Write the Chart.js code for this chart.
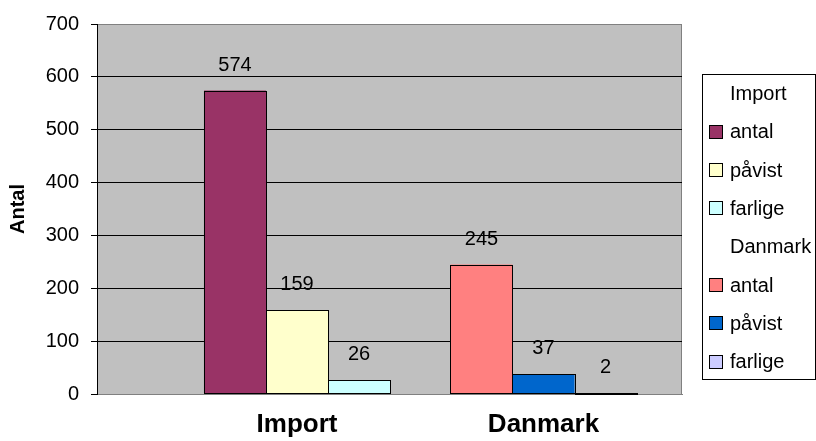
<!DOCTYPE html>
<html><head><meta charset="utf-8">
<script src="https://cdn.jsdelivr.net/npm/chart.js@4.4.0/dist/chart.umd.min.js"></script>
<style>html,body{margin:0;padding:0;background:#fff;}</style>
</head><body>
<canvas id="c" width="816" height="441" style="display:block;width:816px;height:441px"></canvas>
<script>
// ---- data ----
const categories = ['Import', 'Danmark'];
const categoryPositions = [1, 2];
const measures = ['antal', 'påvist', 'farlige'];
const importValues = [574, 159, 26];
const danmarkValues = [245, 37, 2];
const importColors = ['#993366', '#FFFFCC', '#CCFFFF'];
const danmarkColors = ['#FF8080', '#0066CC', '#CCCCFF'];
const yTicks = [0, 100, 200, 300, 400, 500, 600, 700];
const yTitle = 'Antal';

const groupValues = [importValues, danmarkValues];
const groupColors = [importColors, danmarkColors];

const FONT = "'Liberation Sans', Arial, sans-serif";
Chart.defaults.font.family = FONT;
Chart.defaults.color = '#000';

const datasets = measures.map((m, j) => ({
  label: m,
  data: categories.map((c, i) => ({ x: categoryPositions[i], y: groupValues[i][j] })),
  backgroundColor: categories.map((c, i) => groupColors[i][j]),
  borderWidth: 0,
  inflateAmount: 0,
  categoryPercentage: 0.755,
  barPercentage: 1
}));

const plotBg = {
  id: 'plotBg',
  beforeDraw(chart) {
    const { ctx, chartArea: a } = chart;
    ctx.save();
    ctx.fillStyle = '#C0C0C0';
    ctx.fillRect(a.left, a.top, a.right - a.left, a.bottom - a.top);
    ctx.strokeStyle = '#808080';
    ctx.lineWidth = 1;
    ctx.strokeRect(Math.round(a.left) + 0.5, Math.round(a.top) + 0.5, Math.round(a.right - a.left) - 1, Math.round(a.bottom - a.top));
    ctx.restore();
  }
};

// crisp black outlines around each bar, taken from the bar elements' geometry
const barOutlines = {
  id: 'barOutlines',
  afterDatasetsDraw(chart) {
    const { ctx } = chart;
    ctx.save();
    ctx.strokeStyle = '#000';
    ctx.lineWidth = 1;
    chart.data.datasets.forEach((ds, di) => {
      chart.getDatasetMeta(di).data.forEach(el => {
        const l = Math.round(el.x - el.width / 2) + 0.5;
        const r = Math.round(el.x + el.width / 2) + 0.5;
        const t = Math.round(el.y) + 0.5;
        const b = Math.round(el.base) - 0.5;
        ctx.strokeRect(l, t, r - l, Math.max(b - t, 1));
      });
    });
    ctx.restore();
  }
};

const valueLabels = {
  id: 'valueLabels',
  afterDatasetsDraw(chart) {
    const { ctx } = chart;
    ctx.save();
    ctx.font = '20px ' + FONT;
    ctx.fillStyle = '#000';
    ctx.textAlign = 'center';
    ctx.textBaseline = 'alphabetic';
    chart.data.datasets.forEach((ds, di) => {
      const meta = chart.getDatasetMeta(di);
      meta.data.forEach((el, i) => {
        const v = ds.data[i].y;
        if (v === null || v === undefined) return;
        ctx.fillText(String(v), el.x, el.y - 20);
      });
    });
    ctx.restore();
  }
};

const boxLegend = {
  id: 'boxLegend',
  afterDraw(chart) {
    const { ctx } = chart;
    const L = 702, T = 74, R = 815, B = 379;
    const rowH = 38.3, firstY = 93.5;
    ctx.save();
    ctx.fillStyle = '#fff';
    ctx.fillRect(L, T, R - L, B - T);
    ctx.strokeStyle = '#000';
    ctx.lineWidth = 1;
    ctx.strokeRect(L + 0.5, T + 0.5, R - L, B - T);
    const rows = [];
    categories.forEach((c, i) => {
      rows.push({ header: true, text: c });
      measures.forEach((m, j) => rows.push({ header: false, text: m, color: groupColors[i][j] }));
    });
    ctx.font = '20px ' + FONT;
    ctx.textBaseline = 'middle';
    ctx.textAlign = 'left';
    rows.forEach((r, k) => {
      const cy = firstY + k * rowH;
      if (!r.header) {
        ctx.fillStyle = r.color;
        ctx.fillRect(709.5, Math.round(cy - 7) + 0.5, 13, 13);
        ctx.strokeStyle = '#000';
        ctx.strokeRect(709.5, Math.round(cy - 7) + 0.5, 13, 13);
      }
      ctx.fillStyle = '#000';
      ctx.fillText(r.text, 730, cy + 1);
    });
    ctx.restore();
  }
};

new Chart(document.getElementById('c'), {
  type: 'bar',
  data: { datasets },
  plugins: [plotBg, barOutlines, valueLabels, boxLegend],
  options: {
    responsive: false,
    animation: false,
    devicePixelRatio: 1,
    layout: { padding: { left: 0, top: 23, right: 134, bottom: 0 } },
    plugins: { legend: { display: false }, tooltip: { enabled: false } },
    scales: {
      x: {
        type: 'linear',
        offset: false,
        min: 0.18864,
        max: 2.5619,
        afterBuildTicks(scale) { scale.ticks = categoryPositions.map(v => ({ value: v })); },
        afterFit(scale) { scale.height = 47; },
        ticks: {
          callback(value) { const k = categoryPositions.indexOf(value); return k >= 0 ? categories[k] : ''; },
          font: { size: 26, weight: 'bold' },
          color: '#000',
          padding: 15,
          maxRotation: 0,
          autoSkip: false
        },
        grid: { display: false, drawTicks: false, offset: false },
        border: { display: true, color: '#808080', width: 1 }
      },
      y: {
        min: 0,
        max: 700,
        afterBuildTicks(scale) { scale.ticks = yTicks.map(v => ({ value: v })); },
        afterFit(scale) { scale.width = 97; },
        ticks: { font: { size: 20 }, color: '#000', padding: 12 },
        grid: {
          color(ctx) { const v = ctx.tick && ctx.tick.value; return (v === 0 || v === 700) ? 'rgba(0,0,0,0)' : '#000'; },
          tickColor: '#000',
          tickLength: 6,
          lineWidth: 1
        },
        border: { display: true, color: '#000', width: 1 },
        title: { display: true, text: yTitle, font: { size: 20, weight: 'bold' }, color: '#000', padding: { top: 6, bottom: 0 } }
      }
    }
  }
});
</script>
</body></html>
